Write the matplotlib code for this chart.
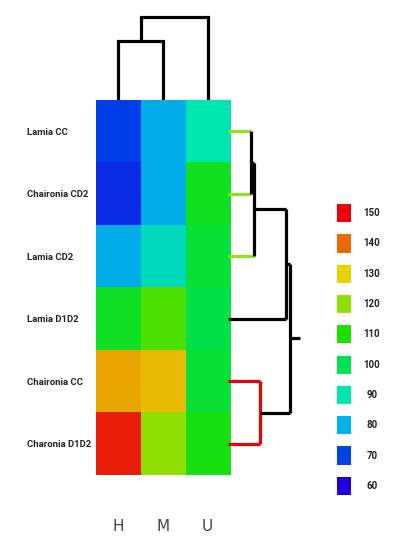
import matplotlib

matplotlib.use("Agg")
import matplotlib.pyplot as plt
import numpy as np
from matplotlib.colors import LinearSegmentedColormap, Normalize

# --- data ------------------------------------------------------------------
rows = ["Lamia CC", "Chaironia CD2", "Lamia CD2", "Lamia D1D2", "Chaironia CC", "Charonia D1D2"]
cols = ["H", "M", "U"]
values = np.array([
    [70, 80, 90],
    [67, 80, 106],
    [80, 88, 103],
    [105, 114, 101],
    [134, 132, 103],
    [147, 120, 108],
])
legend_levels = [150, 140, 130, 120, 110, 100, 90, 80, 70, 60]
legend_colors = ["#e8000a", "#e86a00", "#e8d000", "#8fe000", "#1ee000",
                 "#00e050", "#00e6b0", "#00b0e8", "#0040e8", "#2000e0"]

# column dendrogram: (left, right, height); leaves 0..2, clusters 3..
col_merges = [(0, 1, 2.43), (3, 2, 3.42)]
# row dendrogram: (a, b, distance, colour); leaves 0..5, clusters 6..
row_merges = [
    (0, 1, 23, "#8fe01e"),
    (6, 2, 26, "#8fe01e"),
    (4, 5, 32, "#e8000a"),
    (7, 3, 58, "black"),
    (8, 9, 62, "black"),
]
row_root_tail = 72

cmap = LinearSegmentedColormap.from_list(
    "legend", [((lv - 60) / 90, c) for lv, c in sorted(zip(legend_levels, legend_colors))])
norm = Normalize(60, 150)
label_font = ["Roboto", "DejaVu Sans"]

W, H = 396, 550
fig = plt.figure(figsize=(W / 100, H / 100), dpi=100)


def px_axes(x0, y0, x1, y1):
    return fig.add_axes([x0 / W, 1 - y1 / H, (x1 - x0) / W, (y1 - y0) / H])


def seg(ax, xs, ys, c):
    ax.plot(xs, ys, color=c, lw=2.3, solid_capstyle="butt", solid_joinstyle="miter")


# --- heatmap -----------------------------------------------------------------
ax = px_axes(96, 100, 230, 475)
ax.imshow(values, cmap=cmap, norm=norm, aspect="auto", interpolation="nearest")
ax.set_xticks(range(len(cols)))
ax.set_xticklabels(cols, fontsize=11, color="#444444")
ax.xaxis.set_tick_params(length=0, pad=32)
ax.set_yticks(range(len(rows)))
ax.set_yticklabels(rows, fontsize=6.8, fontweight="bold", color="#222222",
                   family=label_font, ha="left")
ax.yaxis.set_tick_params(length=0, pad=50)
for s in ax.spines.values():
    s.set_visible(False)

# --- column dendrogram -------------------------------------------------------
axt = px_axes(96, 15, 230, 100)
pos = {i: (i, 0.0) for i in range(len(cols))}
for k, (a, b, h) in enumerate(col_merges):
    xa, ha_ = pos[a]
    xb, hb = pos[b]
    seg(axt, [xa, xa, xb, xb], [ha_, h, h, hb], "black")
    pos[len(cols) + k] = ((xa + xb) / 2, h)
axt.set_xlim(-0.5, len(cols) - 0.5)
axt.set_ylim(0, 3.5)
axt.axis("off")

# --- row dendrogram ----------------------------------------------------------
axr = px_axes(228, 100, 305, 475)
rpos = {i: (i, 0.0) for i in range(len(rows))}
for k, (a, b, d, c) in enumerate(row_merges):
    ya, da = rpos[a]
    yb, db = rpos[b]
    mid = (ya + yb) / 2
    vc = c if c == "#e8000a" else "black"
    seg(axr, [da, d], [ya, ya], c if a < len(rows) else "black")
    seg(axr, [db, d], [yb, yb], c if b < len(rows) else "black")
    seg(axr, [d, d], [ya, yb], vc)
    rpos[len(rows) + k] = (mid, d)
ry, rd = rpos[len(rows) + len(row_merges) - 1]
seg(axr, [rd, row_root_tail], [ry, ry], "black")
axr.set_xlim(0, 77)
axr.set_ylim(len(rows) - 0.5, -0.5)
axr.axis("off")

# --- colour key --------------------------------------------------------------
axl = px_axes(330, 198, 390, 501)
ypos = np.arange(len(legend_levels))
axl.barh(ypos, 14, left=7, height=0.6, color=legend_colors)
for y, lv in zip(ypos, legend_levels):
    axl.text(42, y, str(lv), ha="center", va="center", fontsize=7, color="#222222",
             fontweight="bold", family=label_font)
axl.set_xlim(0, 60)
axl.set_ylim(len(legend_levels) - 0.5, -0.5)
axl.axis("off")

fig.savefig("out.png", dpi=100)
